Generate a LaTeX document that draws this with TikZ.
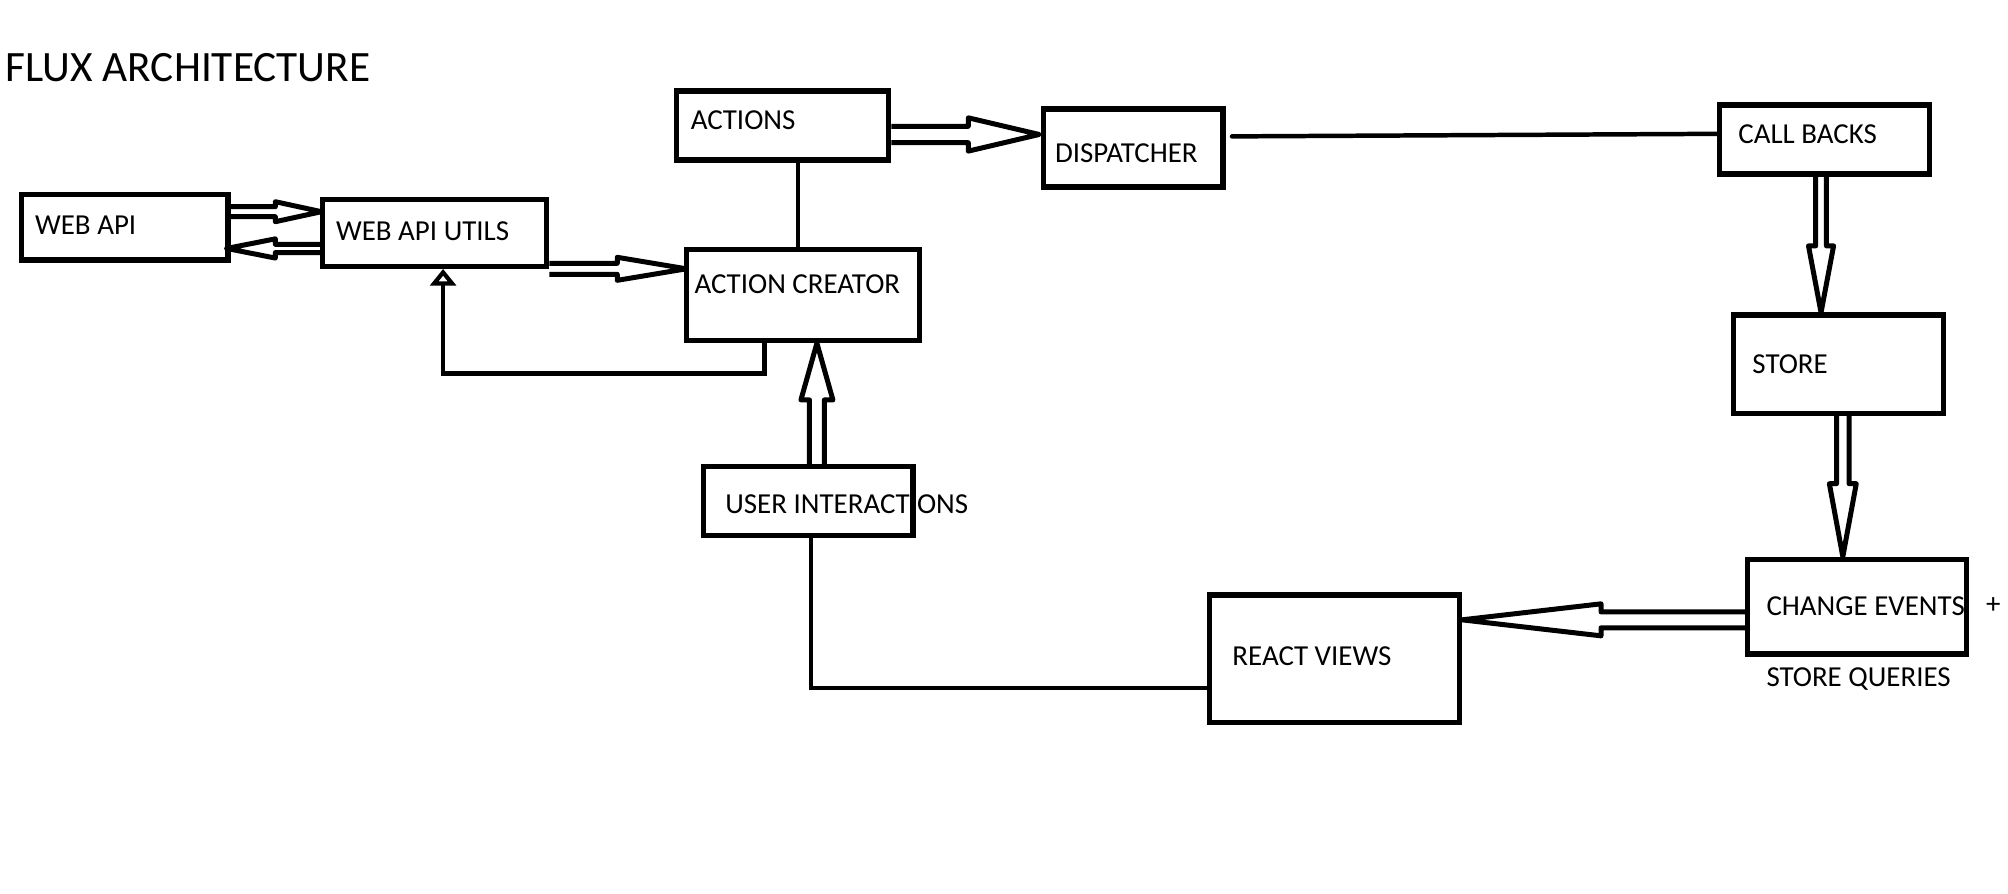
\documentclass[tikz,border=0pt]{standalone}
\usepackage{fontspec}
\setmainfont{Carlito}
\usetikzlibrary{calc,arrows.meta}
\tikzset{
  box/.style={draw=black, line width=2.05pt, rectangle, inner sep=0pt},
  lbl/.style={inner sep=0pt, anchor=base west, font=\fontsize{11.3}{13}\selectfont},
  ttl/.style={inner sep=0pt, anchor=base west, font=\fontsize{16.9}{19}\selectfont},
  arr/.style={draw=black, line width=1.95pt, line join=round, line cap=butt},
  conn/.style={draw=black, line width=1.75pt, line join=miter},
}
% #1 start, #2 tip, #3 half gap, #4 head half width, #5 head length
\newcommand\dblarr[5]{%
  \coordinate (dbB) at ($(#2)!#5!(#1)$);
  \draw[arr] ($(#1)!#3!90:(#2)$) -- ($(dbB)!#3!90:(#2)$) -- ($(dbB)!#4!90:(#2)$)
     -- (#2) -- ($(dbB)!#4!-90:(#2)$) -- ($(dbB)!#3!-90:(#2)$) -- ($(#1)!#3!-90:(#2)$);
}
\begin{document}
\begin{tikzpicture}[x=0.5pt,y=-0.5pt]
\useasboundingbox[fill=white] (0,0) rectangle (1568,698);

\node[ttl] (title) at (4,64) {FLUX ARCHITECTURE};

% boxes
\node[box, minimum width=80.45pt, minimum height=25.45pt] (webapi) at (97.5,177.5) {};
\node[box, minimum width=87.45pt, minimum height=25.95pt] (webapiutils) at (339.5,182) {};
\node[box, minimum width=82.95pt, minimum height=26.95pt] (actions) at (611,98) {};
\node[box, minimum width=90.95pt, minimum height=35.45pt] (actioncreator) at (627,230.5) {};
\node[box, minimum width=70.2pt, minimum height=30.45pt] (dispatcher) at (884.75,115.5) {};
\node[box, minimum width=82.05pt, minimum height=26.95pt] (callbacks) at (1424.7,109) {};
\node[box, minimum width=82pt, minimum height=38.45pt] (store) at (1435.75,284.5) {};
\node[box, minimum width=85.6pt, minimum height=37pt] (changeevents) at (1450.15,473.75) {};
\node[box, minimum width=97.5pt, minimum height=49.75pt] (reactviews) at (1042.05,514.4) {};
\node[box, minimum width=81.95pt, minimum height=26.95pt] (userinteractions) at (631,391.4) {};

% labels
\node[lbl] (webapiT) at (27,183) {WEB API};
\node[lbl] (webapiutilsT) at (262,188) {WEB API UTILS};
\node[lbl] (actionsT) at (539,101) {ACTIONS};
\node[lbl] (actioncreatorT) at (542,229) {ACTION CREATOR};
\node[lbl] (dispatcherT) at (823.5,126.8) {DISPATCHER};
\node[lbl] (callbacksT) at (1357,112) {CALL BACKS};
\node[lbl] (storeT) at (1368,292) {STORE};
\node[lbl] (changeeventsT) at (1379,480.3) {CHANGE EVENTS};
\node[lbl, anchor=base] (plusT) at (1556.5,479) {+};
\node[lbl] (storequeriesT) at (1379,536) {STORE QUERIES};
\node[lbl] (reactviewsT) at (962,520) {REACT VIEWS};
\node[lbl] (userinteractionsT) at (566,401) {USER INTERACTIONS};

% double-line arrows
\coordinate (a1s) at ($(webapi.east)+(0,-12.2)$);
\coordinate (a1t) at ($(webapiutils.west)+(1,-16.7)$);
\dblarr{a1s}{a1t}{1.95pt}{3.9pt}{18pt}

\coordinate (a2s) at ($(webapiutils.west)+(0,12)$);
\coordinate (a2t) at ($(webapi.east)+(-3,16.5)$);
\dblarr{a2s}{a2t}{1.6pt}{3.75pt}{19pt}

\coordinate (a3s) at ($(webapiutils.east)+(0,27.9)$);
\coordinate (a3t) at ($(actioncreator.west)+(2,-20.6)$);
\dblarr{a3s}{a3t}{2.15pt}{4.5pt}{27pt}

\coordinate (a4s) at ($(actions.east)+(0,7)$);
\coordinate (a4t) at ($(dispatcher.west)+(-1,-10.5)$);
\dblarr{a4s}{a4t}{3.2pt}{6.5pt}{27.7pt}

\coordinate (a5s) at ($(callbacks.south)+(-2.7,0)$);
\coordinate (a5t) at ($(store.north)+(-13.75,0)$);
\dblarr{a5s}{a5t}{2.1pt}{4.9pt}{26pt}

\coordinate (a6s) at ($(store.south)+(3.25,0)$);
\coordinate (a6t) at ($(changeevents.north)+(-11.15,0)$);
\dblarr{a6s}{a6t}{2.45pt}{5.25pt}{28.5pt}

\coordinate (a7s) at ($(changeevents.west)+(0,10.25)$);
\coordinate (a7t) at ($(reactviews.east)+(0,-30.4)$);
\dblarr{a7s}{a7t}{3.1pt}{6.25pt}{54.3pt}

\coordinate (a8s) at ($(userinteractions.north)+(6.9,0)$);
\coordinate (a8t) at ($(actioncreator.south)+(10.9,0)$);
\dblarr{a8s}{a8t}{2.9pt}{6.25pt}{22.15pt}

% plain connectors
\coordinate (acx) at ($(actions.south)+(12,0)$);
\draw[conn] (acx) -- (acx |- actioncreator.north);

\draw[conn, line cap=round] ($(dispatcher.east)+(5,-9)$) -- ($(callbacks.west)+(0,-4.5)$);

\draw[conn, -{Triangle[open, length=6.5pt, width=10pt, line width=1.75pt]}]
  ($(actioncreator.south)+(-30,0)$) -- ++(0,23.5) -| ($(webapiutils.south)+(6.5,0)$);

\draw[conn] ($(userinteractions.south)+(2.3,0)$) |- ($(reactviews.west)+(0,23)$);
\end{tikzpicture}
\end{document}
